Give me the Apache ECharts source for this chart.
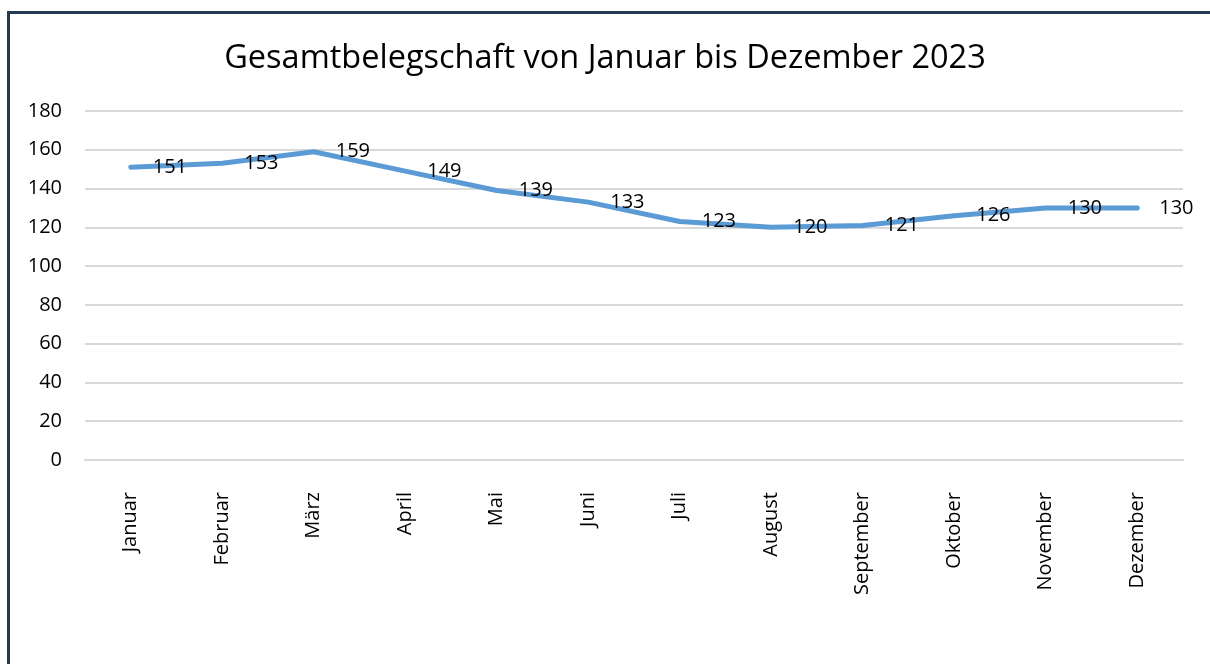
<!DOCTYPE html>
<html>
<head>
<meta charset="utf-8">
<script src="https://cdn.jsdelivr.net/npm/echarts@6/dist/echarts.min.js"></script>
<style>
  html, body { margin: 0; padding: 0; background: #fff; }
  #chart { width: 1210px; height: 664px; }
  #frame { position: absolute; left: 7px; top: 11px; width: 1210px; height: 700px;
           border-top: 3px solid #243a52; border-left: 3px solid #243a52; pointer-events: none; }
</style>
</head>
<body>
<div id="chart"></div>
<div id="frame"></div>
<script>
const months = ['Januar', 'Februar', 'März', 'April', 'Mai', 'Juni', 'Juli', 'August', 'September', 'Oktober', 'November', 'Dezember'];
const staff = [151, 153, 159, 149, 139, 133, 123, 120, 121, 126, 130, 130];
const yTicks = { min: 0, max: 180, interval: 20 };

let myChart = echarts.init(document.getElementById('chart'));

let option = {
  animation: false,
  textStyle: { fontFamily: 'Open Sans' },
  title: {
    text: 'Gesamtbelegschaft von Januar bis Dezember 2023',
    left: 'center',
    top: 37,
    textStyle: { fontFamily: 'Open Sans', fontSize: 32.5, fontWeight: 'normal', color: '#000' }
  },
  grid: { left: 85, right: 27, top: 111, bottom: 204 },
  xAxis: {
    type: 'category',
    data: months,
    boundaryGap: true,
    axisLine: { lineStyle: { color: '#d9d9d9', width: 2 } },
    axisTick: { show: false },
    axisLabel: { rotate: 90, margin: 32, fontSize: 20, color: '#000', interval: 0 }
  },
  yAxis: {
    type: 'value',
    min: yTicks.min,
    max: yTicks.max,
    interval: yTicks.interval,
    axisLine: { show: false },
    axisTick: { show: false },
    axisLabel: { fontSize: 20, color: '#000', margin: 23 },
    splitLine: { lineStyle: { color: '#d9d9d9', width: 2 } }
  },
  series: [
    {
      name: 'Gesamtbelegschaft',
      type: 'line',
      data: staff,
      showSymbol: true,
      symbol: 'circle',
      symbolSize: 0,
      lineStyle: { color: '#5b9bd5', width: 5, cap: 'round' },
      itemStyle: { color: '#5b9bd5' },
      label: {
        show: true,
        position: 'right',
        distance: 22,
        fontSize: 20,
        color: '#000'
      }
    }
  ]
};

myChart.setOption(option);
</script>
</body>
</html>
